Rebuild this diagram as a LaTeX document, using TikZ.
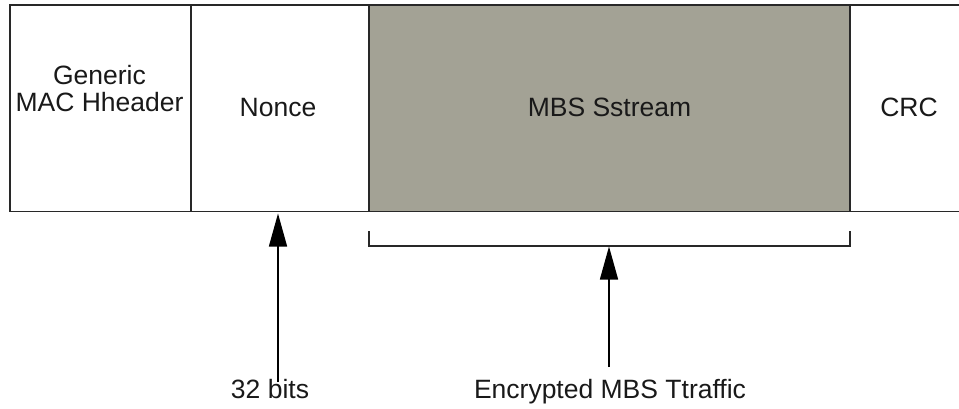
\documentclass[tikz,border=0pt]{standalone}
\usepackage{fontspec}
\setmainfont{Liberation Sans}
\usetikzlibrary{arrows.meta}
\definecolor{streamgray}{RGB}{163,162,149}
\definecolor{framecol}{RGB}{40,40,40}
\definecolor{textcol}{RGB}{25,25,25}
\tikzset{
  frameline/.style={draw=framecol,line width=1.6pt},
  fieldtext/.style={inner sep=0pt,text=textcol,font=\fontsize{26.5}{27}\selectfont,align=center},
  lbltext/.style={inner sep=0pt,text=textcol,font=\fontsize{26.5}{27}\selectfont,anchor=base},
  pointer/.style={draw=black,line width=1.5pt,-{Triangle[length=33pt,width=18pt]}},
  bracketline/.style={draw=framecol,line width=1.6pt}
}
\begin{document}
\begin{tikzpicture}[x=1pt,y=-1pt]
\useasboundingbox (0,0) rectangle (959,409);
% encrypted stream field background
\fill[streamgray] (369,5) rectangle (850,211.5);
% frame
\draw[frameline] (959,5) -- (10,5) -- (10,211.5) -- (959,211.5);
\draw[frameline] (191,5) -- (191,211.5);
\draw[frameline] (369,5) -- (369,211.5);
\draw[frameline] (850,5) -- (850,211.5);
% field labels
\node[fieldtext] (hdr) at (99.5,89) {Generic\\MAC Hheader};
\node[fieldtext,anchor=base] (nonce) at (278,117) {Nonce};
\node[fieldtext,anchor=base] (mbs) at (609.5,117) {MBS Sstream};
\node[fieldtext,anchor=base] (crc) at (909,117) {CRC};
% bracket
\coordinate (brL) at (369,246);
\coordinate (brR) at (850,246);
\draw[bracketline] (369,231) -- (brL) -- (brR) -- (850,231);
% bottom labels
\node[lbltext] (bits) at (270,398) {32 bits};
\node[lbltext] (enc) at (610,398) {Encrypted MBS Ttraffic};
% arrows
\coordinate (bitsTail) at (278,382);
\coordinate (bitsTip) at (278,213.5);
\coordinate (encTail) at (609,367);
\coordinate (encTip) at (609,246.5);
\draw[pointer] (bitsTail) -- (bitsTip);
\draw[pointer] (encTail) -- (encTip);
\end{tikzpicture}
\end{document}
